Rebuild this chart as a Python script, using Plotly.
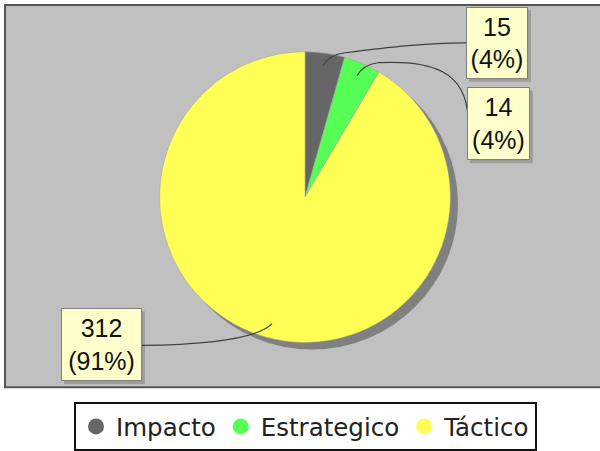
import plotly.graph_objects as go

# ---- data ----
categories = ["Impacto", "Estrategico", "Táctico"]
values = [15, 14, 312]
colors = ["#666666", "#55FF55", "#FFFF55"]

W, H = 600, 451
total = sum(values)
pcts = [round(v * 100 / total) for v in values]
label_texts = [f"{v}<br>({p}%)" for v, p in zip(values, pcts)]

def px(x):
    return x / W

def py(y):
    return 1 - y / H

# pie geometry (pixels)
cx, cy, r = 305, 198, 146
shadow_off = 7

fig = go.Figure()

fig.add_trace(go.Pie(
    labels=categories,
    values=values,
    marker=dict(colors=colors, line=dict(color="#a0a0a0", width=0.5)),
    sort=False,
    direction="clockwise",
    rotation=0,
    textinfo="none",
    showlegend=False,
    domain=dict(x=[px(cx - r), px(cx + r)], y=[py(cy + r), py(cy - r)]),
))

# legend entries as circle markers
for name, col in zip(categories, colors):
    fig.add_trace(go.Scatter(
        x=[None], y=[None], mode="markers", name=name,
        marker=dict(symbol="circle", size=16, color=col),
        showlegend=True,
    ))

shapes = [
    # plot background
    dict(type="rect", xref="paper", yref="paper",
         x0=px(5), x1=px(610), y0=py(389), y1=py(5),
         fillcolor="#C0C0C0", line=dict(color="#555555", width=2), layer="below"),
    # pie shadow
    dict(type="circle", xref="paper", yref="paper",
         x0=px(cx - r + shadow_off), x1=px(cx + r + shadow_off),
         y0=py(cy + r + shadow_off), y1=py(cy - r + shadow_off),
         fillcolor="#808080", line=dict(width=0), layer="below"),
]

def path(points_cmds):
    out = []
    for cmd, pts in points_cmds:
        coords = " ".join(f"{px(x):.5f},{py(y):.5f}" for x, y in pts)
        out.append(f"{cmd} {coords}")
    return " ".join(out)

leaders = [
    [("M", [(323, 66)]), ("Q", [(329, 55), (345, 53)]), ("C", [(385, 48), (425, 43), (466, 43)])],
    [("M", [(357, 76)]), ("Q", [(363, 65), (378, 63)]), ("C", [(432, 60), (466, 72), (468, 118)])],
    [("M", [(142, 347)]), ("C", [(210, 346), (258, 340), (272, 325)])],
]
for ld in leaders:
    shapes.append(dict(type="path", xref="paper", yref="paper", path=path(ld),
                       line=dict(color="#404040", width=1.2), layer="above"))

# label boxes (pixel boxes: x0, y0, x1, y1)
boxes = [(466, 7, 528, 79), (467, 88, 530, 161), (61, 310, 142, 383)]
for (x0, y0, x1, y1) in boxes:
    shapes.append(dict(type="rect", xref="paper", yref="paper",
                       x0=px(x0 + 3), x1=px(x1 + 3), y0=py(y1 + 3), y1=py(y0 + 3),
                       fillcolor="rgba(0,0,0,0.18)", line=dict(width=0), layer="above"))

annotations = []
for txt, (x0, y0, x1, y1) in zip(label_texts, boxes):
    annotations.append(dict(
        xref="paper", yref="paper",
        x=px((x0 + x1) / 2), y=py((y0 + y1) / 2),
        xanchor="center", yanchor="middle",
        text=txt, showarrow=False, align="center",
        width=x1 - x0 - 2, height=y1 - y0 - 2,
        bgcolor="#FFFFCC", bordercolor="#808080", borderwidth=1, borderpad=0,
        font=dict(family="Liberation Sans, Arial, sans-serif", size=25, color="#111111"),
    ))

fig.update_layout(
    width=W, height=H,
    margin=dict(l=0, r=0, t=0, b=0),
    paper_bgcolor="white",
    plot_bgcolor="rgba(0,0,0,0)",
    xaxis=dict(visible=False),
    yaxis=dict(visible=False),
    shapes=shapes,
    annotations=annotations,
    showlegend=True,
    legend=dict(
        orientation="h", x=px(74), y=py(404), xanchor="left", yanchor="top",
        bordercolor="#111111", borderwidth=2, bgcolor="white",
        font=dict(family="DejaVu Sans, sans-serif", size=24.5, color="#222222"),
        itemclick=False, itemdoubleclick=False,
    ),
)

fig.write_html("out.html")
